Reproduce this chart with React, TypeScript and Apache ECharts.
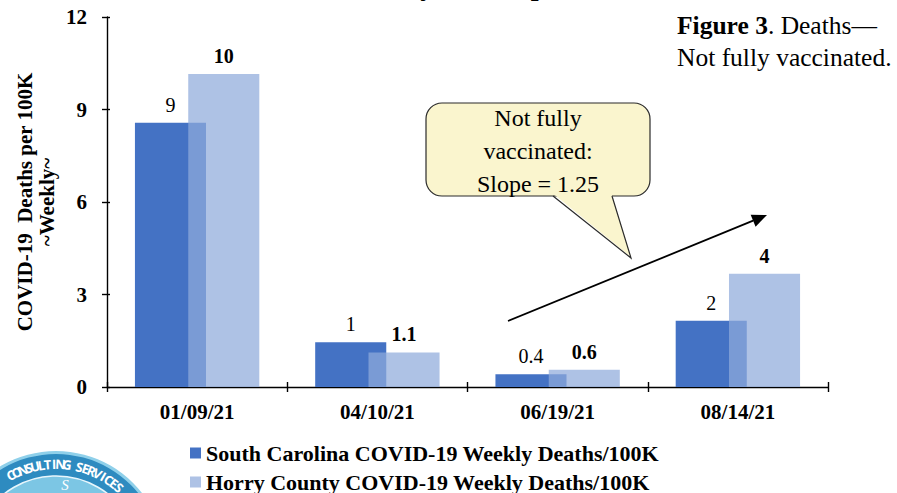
import React, { useEffect, useRef } from "react";
import * as echarts from "echarts";

const categories = ["01/09/21", "04/10/21", "06/19/21", "08/14/21"];
const scValues = [8.57, 1.45, 0.41, 2.15];
const horryValues = [10.15, 1.12, 0.56, 3.67];
const scLabels = ["9", "1", "0.4", "2"];
const horryLabels = ["10", "1.1", "0.6", "4"];
const seriesNames = [
  "South Carolina COVID-19 Weekly Deaths/100K",
  "Horry County COVID-19 Weekly Deaths/100K",
];
const yMin = 0;
const yMax = 12;
const yInterval = 3;
const logoText = "CONSULTING SERVICES";

const SERIF = "'Liberation Serif', 'Times New Roman', serif";

function buildLogo() {
  const cx = 56;
  const cy = 560;
  const children: any[] = [
    { type: "circle", shape: { cx, cy, r: 109 }, style: { fill: "#8FD0EA" } },
    { type: "circle", shape: { cx, cy, r: 106 }, style: { fill: "#2E8BC0" } },
    { type: "circle", shape: { cx, cy, r: 84 }, style: { fill: "#7CC6E4", stroke: "#E8F6FC", lineWidth: 1.5 } },
    {
      type: "text",
      x: 65,
      y: 485,
      style: { text: "S", fill: "#FFFFFF", font: "italic 15px " + SERIF, align: "center", verticalAlign: "middle" },
    },
  ];
  const start = -28;
  const end = 41;
  const n = logoText.length;
  for (let i = 0; i < n; i++) {
    const ch = logoText[i];
    if (ch === " ") continue;
    const deg = start + ((end - start) * i) / (n - 1);
    const th = (deg * Math.PI) / 180;
    const R = 96;
    children.push({
      type: "text",
      x: cx + R * Math.sin(th),
      y: cy - R * Math.cos(th),
      rotation: -th,
      style: {
        text: ch,
        fill: "#FFFFFF",
        font: "bold 13px 'Open Sans', 'DejaVu Sans', sans-serif",
        align: "center",
        verticalAlign: "middle",
      },
    });
  }
  return { type: "group", z: 0, children };
}

function buildArrow() {
  const x1 = 508, y1 = 321, x2 = 767, y2 = 215;
  const dx = x2 - x1, dy = y2 - y1;
  const len = Math.sqrt(dx * dx + dy * dy);
  const ux = dx / len, uy = dy / len;
  const px = -uy, py = ux;
  const hl = 15, hw = 6.5;
  const bx = x2 - hl * ux, by = y2 - hl * uy;
  return {
    type: "group",
    z: 10,
    children: [
      { type: "line", shape: { x1, y1, x2: bx, y2: by }, style: { stroke: "#000", lineWidth: 1.8 } },
      {
        type: "polygon",
        shape: { points: [[x2, y2], [bx + hw * px, by + hw * py], [bx - hw * px, by - hw * py]] },
        style: { fill: "#000" },
      },
    ],
  };
}

function buildCallout() {
  return {
    type: "group",
    z: 10,
    children: [
      {
        type: "rect",
        shape: { x: 426, y: 103, width: 224, height: 93, r: 16 },
        style: { fill: "#FAF5CE", stroke: "#2b2b2b", lineWidth: 1.2 },
      },
      {
        type: "polygon",
        shape: { points: [[553.5, 194], [611.5, 194], [631, 257]] },
        style: { fill: "#FAF5CE" },
      },
      {
        type: "polyline",
        shape: { points: [[553, 196], [631, 258], [612, 196]] },
        style: { stroke: "#2b2b2b", lineWidth: 1.2, fill: null },
      },
      {
        type: "text",
        x: 538,
        y: 151,
        style: {
          text: "Not fully\nvaccinated:\nSlope = 1.25",
          font: "24px " + SERIF,
          fill: "#000",
          align: "center",
          verticalAlign: "middle",
          lineHeight: 33,
        },
      },
    ],
  };
}

export default function App() {
  const ref = useRef<HTMLDivElement>(null);
  useEffect(() => {
    if (!ref.current) return;
    const chart = echarts.init(ref.current, null, { renderer: "svg" });
    const axisLineStyle = { color: "#000", width: 1.4 };
    const legendText = { fontFamily: SERIF, fontWeight: "bold", fontSize: 22, color: "#000" };
    const option: any = {
      animation: false,
      backgroundColor: "#FFFFFF",
      grid: { left: 107, right: 69, top: 17, bottom: 106, containLabel: false },
      legend: [
        {
          left: 190,
          top: 442,
          padding: 0,
          itemWidth: 11,
          itemHeight: 11,
          itemGap: 4,
          icon: "rect",
          selectedMode: false,
          data: [seriesNames[0]],
          textStyle: legendText,
        },
        {
          left: 190,
          top: 471,
          padding: 0,
          itemWidth: 11,
          itemHeight: 11,
          itemGap: 4,
          icon: "rect",
          selectedMode: false,
          data: [seriesNames[1]],
          textStyle: legendText,
        },
      ],
      xAxis: [
        {
          type: "category",
          data: categories,
          axisLine: { lineStyle: axisLineStyle },
          axisTick: { show: true, length: 5, lineStyle: axisLineStyle },
          axisLabel: { fontFamily: SERIF, fontWeight: "bold", fontSize: 21, color: "#000", margin: 14 },
        },
        {
          type: "category",
          data: categories,
          position: "bottom",
          axisLine: { show: false },
          axisTick: { show: true, inside: true, length: 5, lineStyle: axisLineStyle },
          axisLabel: { show: false },
        },
      ],
      yAxis: [
        {
          type: "value",
          min: yMin,
          max: yMax,
          interval: yInterval,
          axisLine: { show: true, lineStyle: axisLineStyle },
          axisTick: { show: true, length: 5, lineStyle: axisLineStyle },
          splitLine: { show: false },
          axisLabel: { fontFamily: SERIF, fontWeight: "bold", fontSize: 21, color: "#000", margin: 20 },
        },
        {
          type: "value",
          min: yMin,
          max: yMax,
          interval: yInterval,
          position: "left",
          axisLine: { show: false },
          axisTick: { show: true, inside: true, length: 3, lineStyle: axisLineStyle },
          splitLine: { show: false },
          axisLabel: { show: false },
        },
      ],
      series: [
        {
          name: seriesNames[0],
          type: "bar",
          data: scValues,
          barGap: "-25%",
          barCategoryGap: "31%",
          itemStyle: { color: "#4472C4" },
          label: {
            show: true,
            position: "top",
            distance: 8,
            formatter: (p: any) => scLabels[p.dataIndex],
            fontFamily: SERIF,
            fontSize: 20,
            color: "#000",
          },
        },
        {
          name: seriesNames[1],
          type: "bar",
          data: horryValues,
          barGap: "-25%",
          barCategoryGap: "31%",
          itemStyle: { color: "rgb(143,171,219)", opacity: 0.72 },
          label: {
            show: true,
            position: "top",
            distance: 8,
            formatter: (p: any) => horryLabels[p.dataIndex],
            fontFamily: SERIF,
            fontWeight: "bold",
            fontSize: 20,
            color: "#000",
            opacity: 1,
          },
        },
      ],
      graphic: [
        {
          type: "text",
          x: 425,
          y: -15,
          style: {
            text: "COVID-19 Weekly Deaths per 100K",
            font: "bold 28px " + SERIF,
            fill: "#000",
            align: "center",
            verticalAlign: "middle",
          },
        },
        {
          type: "text",
          x: 36,
          y: 202,
          rotation: Math.PI / 2,
          style: {
            text: "COVID-19  Deaths per 100K\n~Weekly~",
            font: "bold 21px " + SERIF,
            fill: "#000",
            align: "center",
            verticalAlign: "middle",
            lineHeight: 22,
          },
        },
        {
          type: "text",
          x: 677,
          y: 9,
          style: {
            text: "{b|Figure 3}. Deaths—\nNot fully vaccinated.",
            font: "25.5px " + SERIF,
            fill: "#000",
            lineHeight: 32,
            rich: {
              b: { fontFamily: SERIF, fontWeight: "bold", fontSize: 25.5, fill: "#000", lineHeight: 32 },
            },
          },
        },
        buildCallout(),
        buildArrow(),
        buildLogo(),
      ],
    };
    chart.setOption(option);
    return () => chart.dispose();
  }, []);
  return (
    <div
      ref={ref}
      style={{ position: "fixed", left: 0, top: 0, width: 897, height: 493, background: "#fff" }}
    />
  );
}
